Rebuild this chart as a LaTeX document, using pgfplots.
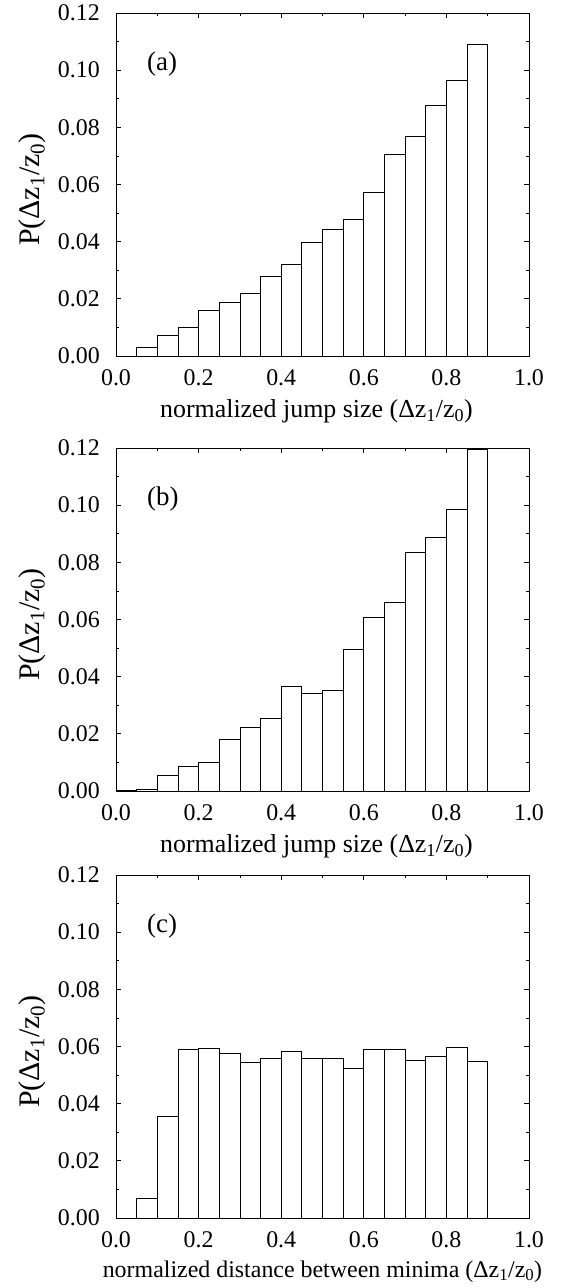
\documentclass[border=0pt]{standalone}
\usepackage{pgfplots}
\pgfplotsset{compat=1.18}
\usepackage{fontspec}
\setmainfont{Liberation Serif}

\tikzset{lab/.style={anchor=west, inner sep=0pt, font=\fontsize{27}{29}\selectfont}}

\pgfplotsset{
 panel/.style={
  scale only axis, width=413bp, height=343bp,
  xmin=0, xmax=1, ymin=0, ymax=0.12,
  xtick={0,0.2,0.4,0.6,0.8,1.0}, minor xtick={0.1,0.3,0.5,0.7,0.9},
  ytick={0,0.02,0.04,0.06,0.08,0.10,0.12},
  minor ytick={0.01,0.03,0.05,0.07,0.09,0.11},
  tick align=inside, xtick pos=both, ytick pos=both,
  xticklabel pos=lower, yticklabel pos=left,
  major tick length=5bp, minor tick length=3bp,
  xticklabel style={/pgf/number format/fixed, /pgf/number format/fixed zerofill, /pgf/number format/precision=1},
  yticklabel style={/pgf/number format/fixed, /pgf/number format/fixed zerofill, /pgf/number format/precision=2},
  /pgf/number format/assume math mode=true,
  tick label style={font=\fontsize{24}{26}\selectfont, inner sep=0pt},
  every x tick label/.append style={yshift=-13bp},
  every y tick label/.append style={xshift=-16bp},
  ylabel={P(Δz\textsubscript{1}/z\textsubscript{0})},
  ylabel style={font=\fontsize{30}{32}\selectfont, inner sep=0pt,
     at={(axis description cs:0,0.485)}, anchor=center, yshift=84bp},
  xlabel style={font=\fontsize{26}{28}\selectfont, inner sep=0pt,
     at={(axis description cs:0.5,0)}, anchor=base, yshift=-62bp, xshift=-6bp},
  axis line style={line width=0.8bp},
  every tick/.style={line width=0.8bp, black},
  clip=false,
 },
 bars/.style={ybar interval, fill=white, draw=black, line width=0.8bp},
}

\begin{document}
\begin{tikzpicture}
\path[use as bounding box] (0,0) rectangle (562bp,1288bp);

% (a)
\begin{axis}[panel, at={(116bp,932bp)}, anchor=south west,
  xlabel={normalized jump size (Δz\textsubscript{1}/z\textsubscript{0})}]
\addplot[bars] coordinates {
(0.05,0.0030) (0.10,0.0071) (0.15,0.0099) (0.20,0.0160) (0.25,0.0187)
(0.30,0.0219) (0.35,0.0279) (0.40,0.0320) (0.45,0.0398) (0.50,0.0443)
(0.55,0.0477) (0.60,0.0572) (0.65,0.0704) (0.70,0.0768) (0.75,0.0876)
(0.80,0.0965) (0.85,0.1089) (0.90,0)};
\node[lab] at (axis cs:0.075,0.102) {(a)};
\end{axis}

% (b)
\begin{axis}[panel, at={(116bp,497bp)}, anchor=south west,
  xlabel={normalized jump size (Δz\textsubscript{1}/z\textsubscript{0})}]
\addplot[bars] coordinates {
(0.00,0.0002) (0.05,0.0005) (0.10,0.0054) (0.15,0.0086) (0.20,0.0101) (0.25,0.0181)
(0.30,0.0222) (0.35,0.0253) (0.40,0.0365) (0.45,0.0341) (0.50,0.0351)
(0.55,0.0496) (0.60,0.0608) (0.65,0.0659) (0.70,0.0834) (0.75,0.0887)
(0.80,0.0984) (0.85,0.1194) (0.90,0)};
\node[lab] at (axis cs:0.075,0.102) {(b)};
\end{axis}

% (c)
\begin{axis}[panel, at={(116bp,70bp)}, anchor=south west,
  xlabel={normalized distance between minima (Δz\textsubscript{1}/z\textsubscript{0})},
  xlabel style={font=\fontsize{24}{26}\selectfont, yshift=3bp, xshift=6bp}]
\addplot[bars] coordinates {
(0.05,0.0068) (0.10,0.0356) (0.15,0.0591) (0.20,0.0594) (0.25,0.0577)
(0.30,0.0546) (0.35,0.0560) (0.40,0.0584) (0.45,0.0560) (0.50,0.0559)
(0.55,0.0525) (0.60,0.0590) (0.65,0.0589) (0.70,0.0553) (0.75,0.0565)
(0.80,0.0597) (0.85,0.0548) (0.90,0)};
\node[lab] at (axis cs:0.075,0.102) {(c)};
\end{axis}
\end{tikzpicture}
\end{document}
